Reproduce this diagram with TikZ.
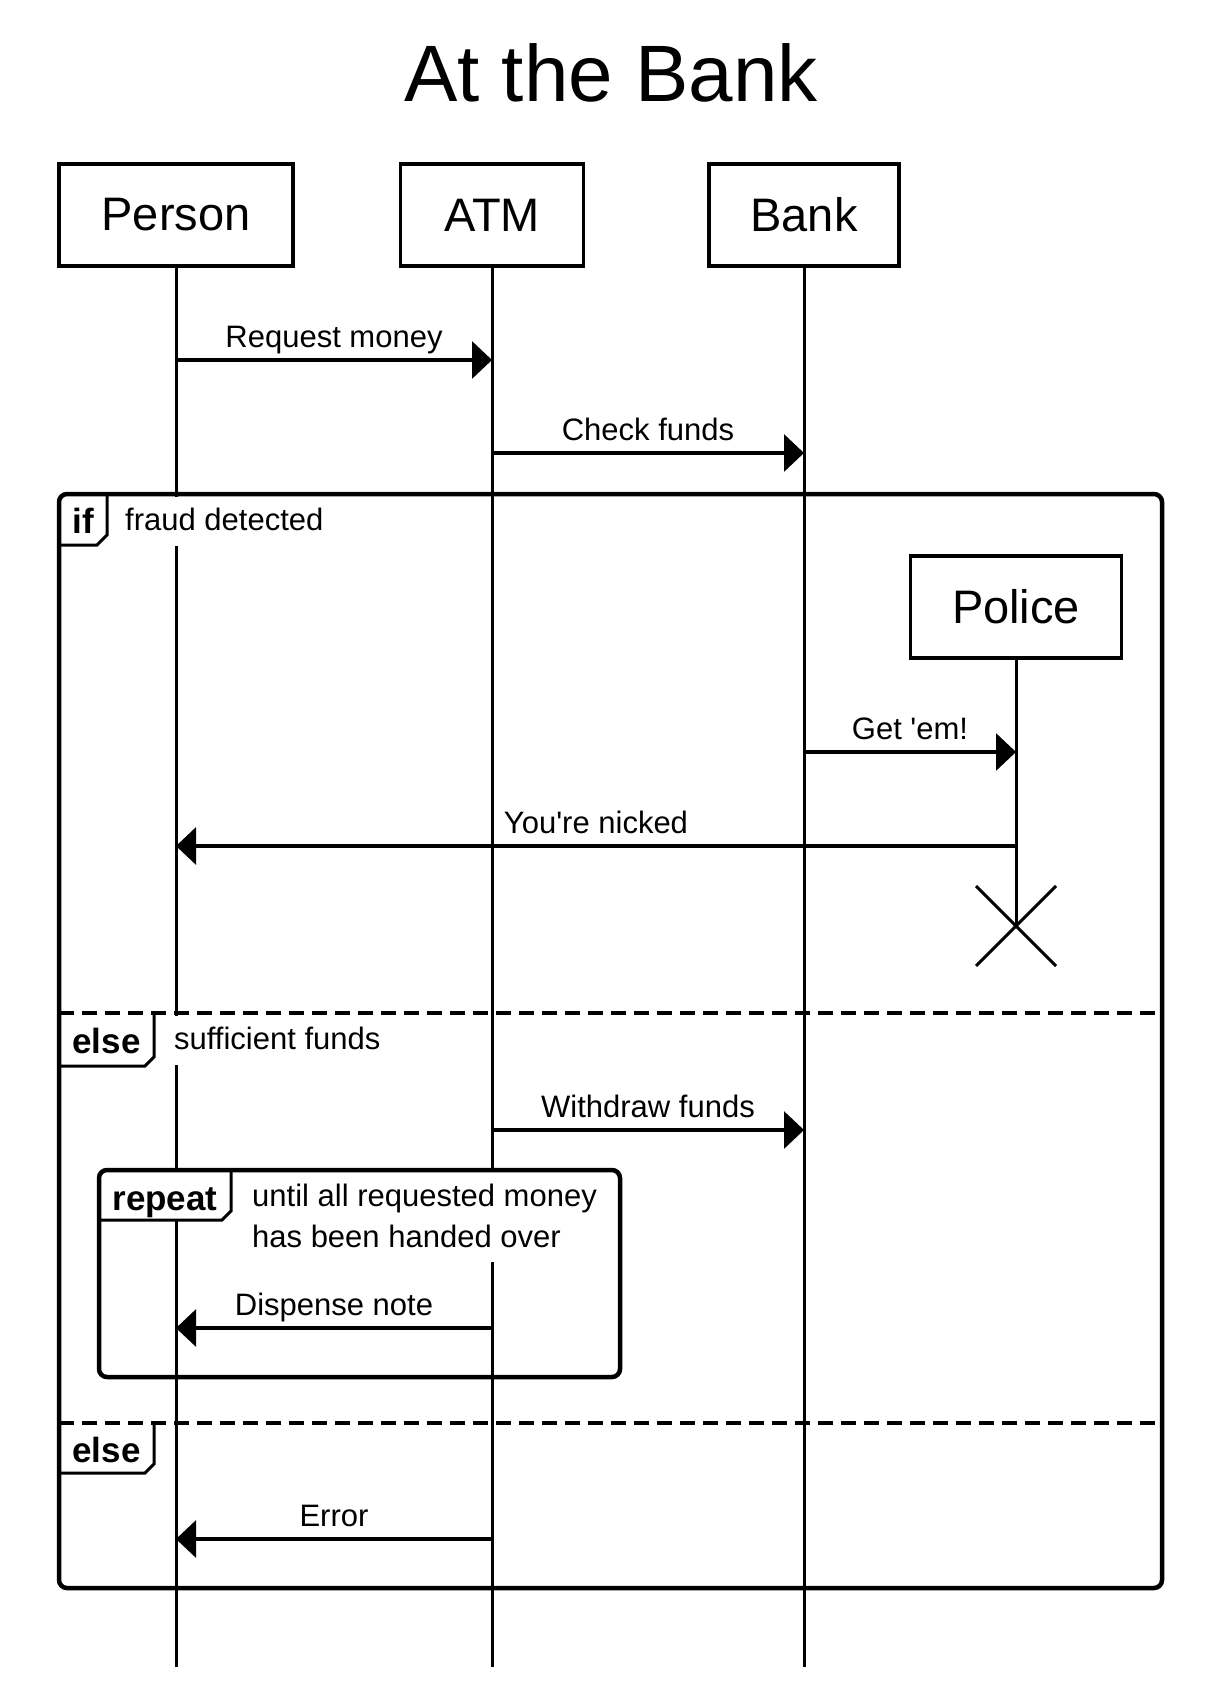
\documentclass[tikz,border=0pt]{standalone}
\usepackage{fontspec}
\setmainfont{Liberation Sans}[Ligatures=TeXOff]
\usetikzlibrary{arrows.meta}
\begin{document}
\begin{tikzpicture}[x=1pt,y=-1pt,
  actor/.style={draw, line width=3.5pt, minimum height=102pt, inner sep=0pt, font=\fontsize{47}{56}\selectfont},
  lifeline/.style={line width=3pt},
  msg/.style={line width=3.2pt, -{Triangle[length=20pt,width=37pt]}},
  msglabel/.style={fill=white, inner xsep=10pt, inner ysep=10pt, text height=23pt, text depth=6pt, font=\fontsize{31}{37}\selectfont, anchor=base},
  condlabel/.style={msglabel, anchor=base west},
  frameline/.style={line width=4.5pt, rounded corners=8pt},
  sepline/.style={line width=4.5pt, dash pattern=on 15pt off 8pt},
  tabedge/.style={line width=3pt},
  tablabel/.style={font=\bfseries\fontsize{35}{42}\selectfont, anchor=base, inner sep=0pt},
]
\fill[white] (0,0) rectangle (1222,1688);
\useasboundingbox (0,0) rectangle (1222,1688);

% title
\node[font=\fontsize{80}{96}\selectfont, anchor=base] (title) at (611,102) {At the Bank};

% participants
\node[actor, minimum width=234pt] (person) at (176,215) {Person};
\node[actor, minimum width=183pt] (atm) at (492,215) {ATM};
\node[actor, minimum width=190pt] (bank) at (804,215) {Bank};
\node[actor, minimum width=211pt] (police) at (1016,607) {Police};

% lifelines
\coordinate (pEnd) at (176,1667);
\coordinate (aEnd) at (492,1667);
\coordinate (bEnd) at (804,1667);
\coordinate (polEnd) at (1016,926);
\draw[lifeline] (person) -- (pEnd);
\draw[lifeline] (atm) -- (aEnd);
\draw[lifeline] (bank) -- (bEnd);
\draw[lifeline] (police) -- (polEnd);

% message end points
\coordinate (p1) at (176,360);  \coordinate (a1) at (492,360);
\coordinate (a2) at (492,453);  \coordinate (b2) at (804,453);
\coordinate (b3) at (804,752);  \coordinate (pol3) at (1016,752);
\coordinate (pol4) at (1016,846); \coordinate (p4) at (176,846);
\coordinate (a5) at (492,1130); \coordinate (b5) at (804,1130);
\coordinate (a6) at (492,1328); \coordinate (p6) at (176,1328);
\coordinate (a7) at (492,1539); \coordinate (p7) at (176,1539);

% message labels (white background)
\path (p1) -- (a1) node[msglabel, midway, yshift=13pt] (l1) {Request money};
\path (a2) -- (b2) node[msglabel, midway, yshift=13pt] (l2) {Check funds};
\path (b3) -- (pol3) node[msglabel, midway, yshift=13pt] (l3) {Get 'em!};
\path (pol4) -- (p4) node[msglabel, midway, yshift=13pt] (l4) {You're nicked};
\path (a5) -- (b5) node[msglabel, midway, yshift=13pt] (l5) {Withdraw funds};
\path (a6) -- (p6) node[msglabel, midway, yshift=13pt] (l6) {Dispense note};
\path (a7) -- (p7) node[msglabel, midway, yshift=13pt] (l7) {Error};

% condition labels
\node[condlabel] (cond1) at (115,530) {fraud detected};
\node[condlabel] (cond2) at (164,1049) {sufficient funds};
\node[fill=white, align=left, anchor=north west, inner xsep=10pt, inner ysep=14pt, font=\fontsize{31}{41}\selectfont] (cond3) at (242,1170) {until all requested money\\has been handed over};

% tab fills
\fill[white] (59,494) rectangle (107,545);
\fill[white] (59,1013) rectangle (154,1066);
\fill[white] (99,1170) rectangle (231,1220);
\fill[white] (59,1423) rectangle (154,1473);

% frames
\draw[frameline] (59,494) rectangle (1162,1588);
\draw[frameline] (99,1170) rectangle (620,1377);
\draw[sepline] (59,1013) -- (1162,1013);
\draw[sepline] (59,1423) -- (1162,1423);

% tab edges
\draw[tabedge] (107,494) -- (107,535) -- (97,545) -- (59,545);
\draw[tabedge] (154,1013) -- (154,1057) -- (145,1066) -- (59,1066);
\draw[tabedge] (231,1170) -- (231,1211) -- (222,1220) -- (99,1220);
\draw[tabedge] (154,1423) -- (154,1464) -- (145,1473) -- (59,1473);

% tab labels
\node[tablabel] (tif) at (83,533) {if};
\node[tablabel] (telse1) at (106.5,1053) {else};
\node[tablabel] (trepeat) at (165,1210) {repeat};
\node[tablabel] (telse2) at (106.5,1462) {else};

% messages
\draw[msg] (p1) -- (a1);
\draw[msg] (a2) -- (b2);
\draw[msg] (b3) -- (pol3);
\draw[msg] (pol4) -- (p4);
\draw[msg] (a5) -- (b5);
\draw[msg] (a6) -- (p6);
\draw[msg] (a7) -- (p7);

% destruction
\draw[line width=3pt] (polEnd) ++(-40,-40) -- ++(80,80);
\draw[line width=3pt] (polEnd) ++(-40,40) -- ++(80,-80);
\end{tikzpicture}
\end{document}
